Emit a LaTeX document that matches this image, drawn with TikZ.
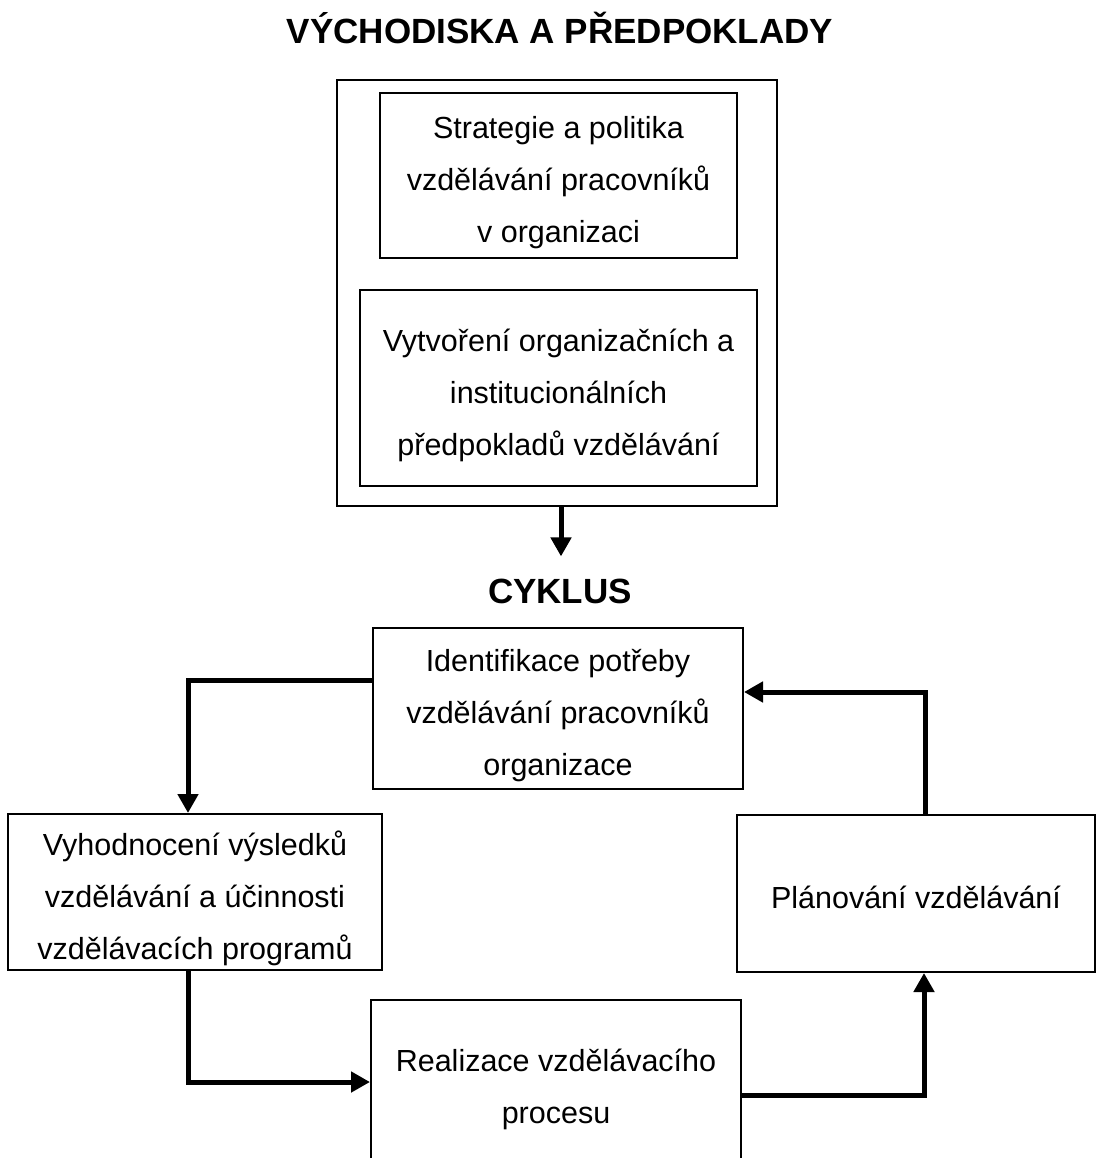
\documentclass[tikz,border=0pt]{standalone}
\usepackage{fontspec}
\setmainfont{Liberation Sans}
\usepackage{tikz}
\usetikzlibrary{arrows.meta,positioning}

\begin{document}
\begin{tikzpicture}[x=1pt, y=-1pt,
  every node/.style={font=\fontsize{30.5}{52}\selectfont},
  box/.style={draw, line width=2pt, align=flush center, text width=356pt, inner sep=0pt,
    execute at begin node={\rule{0pt}{37pt}},
    execute at end node={\rule[-7pt]{0pt}{0pt}}},
  head/.style={font=\fontsize{35}{42}\selectfont\bfseries, inner sep=0pt},
  arr/.style={line width=5pt, -{Triangle[length=19pt,width=20pt]}}]
\clip (0,0) rectangle (1096,1158);

% vychodiska
\node[head] (t1) at (560,28) {VÝCHODISKA A PŘEDPOKLADY};
\node[box,minimum width=440pt,minimum height=426pt] (outer) at (557,293) {};
\node[box,minimum width=357pt,minimum height=165pt] (strat) at (558.5,175.5) {Strategie a politika\\vzdělávání pracovníků\\v organizaci};
\node[box,minimum width=397pt,minimum height=196pt] (inst) at (558.5,388) {Vytvoření organizačních a\\institucionálních\\předpokladů vzdělávání};

% cyklus
\node[head] (t2) at (560,591) {CYKLUS};
\node[box,minimum width=370pt,minimum height=161pt] (ident) at (558,708.5) {Identifikace potřeby\\vzdělávání pracovníků\\organizace};
\node[box,minimum width=374pt,minimum height=156pt] (vyh) at (195,892) {Vyhodnocení výsledků\\vzdělávání a účinnosti\\vzdělávacích programů};
\node[box,minimum width=358pt,minimum height=157pt] (plan) at (916,893.5) {Plánování vzdělávání};
\node[box,minimum width=370pt,minimum height=164pt] (real) at (556,1082) {Realizace vzdělávacího\\procesu};

\draw[arr, shorten >=22pt] ([xshift=4pt]outer.south) -- ([xshift=4pt]outer.south |- t2.north);
\draw[arr] ([yshift=28.5pt]ident.west) -| ([xshift=-7pt]vyh.north);
\draw[arr] ([xshift=-7pt]vyh.south) |- (real.west);
\draw[arr] ([yshift=-13pt]real.east) -| ([xshift=8pt]plan.south);
\draw[arr] ([xshift=9pt]plan.north) |- ([yshift=16.5pt]ident.east);
\end{tikzpicture}
\end{document}
